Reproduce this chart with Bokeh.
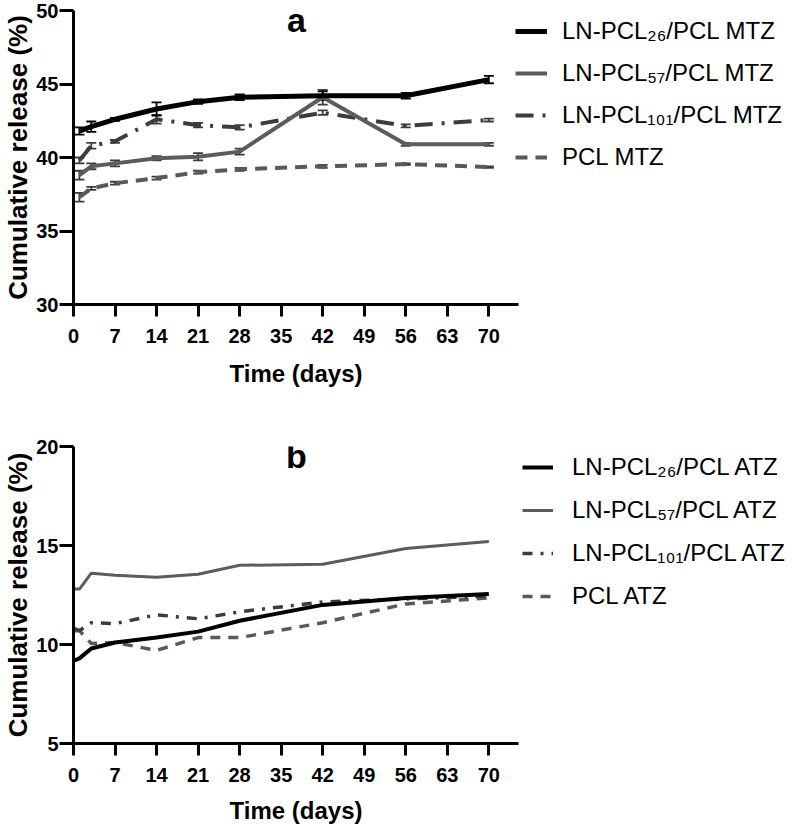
from bokeh.plotting import figure
from bokeh.layouts import column
from bokeh.models import (ColumnDataSource, Whisker, TeeHead, Legend, LegendItem,
                          Label, FixedTicker, Range1d)
from bokeh.embed import file_html
from bokeh.resources import INLINE

FONT = "Liberation Sans"

# ---- release data: metronidazole (MTZ) fibres ----
days_a = [1, 3, 7, 14, 21, 28, 42, 56, 70]
mtz_26 = [41.8, 42.1, 42.6, 43.3, 43.8, 44.1, 44.2, 44.2, 45.3]
mtz_26_sd = [0.25, 0.35, 0.1, 0.45, 0.15, 0.2, 0.3, 0.2, 0.25]
mtz_57 = [38.8, 39.4, 39.6, 39.95, 40.05, 40.4, 44.1, 40.9, 40.9]
mtz_57_sd = [0.3, 0.2, 0.2, 0.15, 0.25, 0.2, 0.5, 0.1, 0.1]
mtz_101 = [39.8, 40.8, 41.1, 42.6, 42.2, 42.05, 43.05, 42.15, 42.55]
mtz_101_sd = [0.2, 0.2, 0.1, 0.3, 0.15, 0.15, 0.15, 0.1, 0.1]
mtz_pcl = [37.3, 37.9, 38.25, 38.6, 39.0, 39.2, 39.4, 39.55, 39.35]
mtz_pcl_sd = [0.3, 0.1, 0.1, 0.1, 0.1, 0.1, 0.1, 0.05, 0.05]

# ---- release data: atorvastatin (ATZ) fibres ----
days_b = [0.2, 1, 3, 7, 14, 21, 28, 42, 56, 70]
atz_26 = [9.2, 9.3, 9.8, 10.1, 10.35, 10.65, 11.2, 12.0, 12.35, 12.55]
atz_57 = [12.8, 12.8, 13.6, 13.5, 13.4, 13.55, 14.0, 14.05, 14.85, 15.2]
atz_101 = [10.8, 10.7, 11.1, 11.05, 11.5, 11.3, 11.65, 12.15, 12.3, 12.45]
atz_pcl = [10.7, 10.7, 10.05, 10.1, 9.7, 10.35, 10.35, 11.1, 12.05, 12.35]

x_ticks = [0, 7, 14, 21, 28, 35, 42, 49, 56, 63, 70]
y_ticks_a = [30, 35, 40, 45, 50]
y_ticks_b = [5, 10, 15, 20]

labels_a = ["LN-PCL\u2082\u2086/PCL MTZ", "LN-PCL\u2085\u2087/PCL MTZ",
            "LN-PCL\u2081\u2080\u2081/PCL MTZ", "PCL MTZ"]
labels_b = ["LN-PCL\u2082\u2086/PCL ATZ", "LN-PCL\u2085\u2087/PCL ATZ",
            "LN-PCL\u2081\u2080\u2081/PCL ATZ", "PCL ATZ"]

BLACK = "#000000"
GREY = "#5c5c5c"
DARK = "#3c3c3c"
DASHED = "#595959"


def base_figure(y_lo, y_hi, y_ticks, fh, top, bottom, title_gap):
    p = figure(frame_width=445, frame_height=fh,
               x_range=Range1d(0, 75), y_range=Range1d(y_lo, y_hi),
               output_backend="svg", toolbar_location=None,
               min_border_left=73, min_border_right=278,
               min_border_top=top, min_border_bottom=bottom)
    p.outline_line_color = None
    p.grid.visible = False
    p.background_fill_color = "white"
    p.border_fill_color = "white"

    p.xaxis.ticker = FixedTicker(ticks=x_ticks)
    p.yaxis.ticker = FixedTicker(ticks=y_ticks)
    for ax in (p.xaxis, p.yaxis):
        ax.axis_line_width = 3
        ax.major_tick_line_width = 3
        ax.major_tick_in = 0
        ax.minor_tick_line_color = None
        ax.major_label_text_font = FONT
        ax.major_label_text_font_style = "bold"
        ax.major_label_text_font_size = "20px"
        ax.major_label_text_color = "black"
        ax.axis_label_text_font = FONT
        ax.axis_label_text_font_style = "bold"
        ax.axis_label_text_color = "black"
    p.xaxis.major_tick_out = 12
    p.xaxis.major_label_standoff = 12
    p.xaxis.axis_label = "Time (days)"
    p.xaxis.axis_label_text_font_size = "24px"
    p.xaxis.axis_label_standoff = title_gap
    p.yaxis.major_tick_out = 14
    p.yaxis.major_label_standoff = 1
    p.yaxis.axis_label = "Cumulative release (%)"
    p.yaxis.axis_label_text_font_size = "26px"
    p.yaxis.axis_label_standoff = 0
    return p


def add_errors(p, days, vals, sds, color):
    src = ColumnDataSource(dict(x=days,
                                lo=[v - s for v, s in zip(vals, sds)],
                                hi=[v + s for v, s in zip(vals, sds)]))
    w = Whisker(base="x", lower="lo", upper="hi", source=src,
                line_color=color, line_width=1.8,
                upper_head=TeeHead(size=10, line_color=color, line_width=1.8),
                lower_head=TeeHead(size=10, line_color=color, line_width=1.8))
    p.add_layout(w)


def add_legend(p, renderers, labels, loc, glyph_w, standoff, gap):
    items = [LegendItem(label=lab, renderers=[r]) for lab, r in zip(labels, renderers)]
    leg = Legend(items=items, location=loc, orientation="vertical",
                 margin=0, padding=0, spacing=gap,
                 glyph_width=glyph_w, glyph_height=28, label_height=28,
                 label_standoff=standoff,
                 label_text_font=FONT, label_text_font_size="24px",
                 label_text_color="black",
                 border_line_color=None, background_fill_alpha=0)
    p.add_layout(leg, "right")


# ---------------- panel a ----------------
pa = base_figure(30, 50, y_ticks_a, 294, 10, 108, 14)
ra_pcl = pa.line(days_a, mtz_pcl, line_color=DASHED, line_width=4, line_dash="12 8")
ra_101 = pa.line(days_a, mtz_101, line_color=DARK, line_width=4, line_dash="18 9 3 9")
ra_57 = pa.line(days_a, mtz_57, line_color=GREY, line_width=4)
ra_26 = pa.line(days_a, mtz_26, line_color=BLACK, line_width=5)
add_errors(pa, days_a, mtz_pcl, mtz_pcl_sd, DARK)
add_errors(pa, days_a, mtz_101, mtz_101_sd, DARK)
add_errors(pa, days_a, mtz_57, mtz_57_sd, DARK)
add_errors(pa, days_a, mtz_26, mtz_26_sd, BLACK)
add_legend(pa, [ra_26, ra_57, ra_101, ra_pcl], labels_a, (-3, 133), 32, 15, 14)
pa.add_layout(Label(x=223, y=285, x_units="screen", y_units="screen", text="a",
                    text_font=FONT, text_font_style="bold", text_font_size="34px",
                    text_color="black", text_align="center", text_baseline="alphabetic"))

# ---------------- panel b ----------------
pb = base_figure(5, 20, y_ticks_b, 297, 34, 81, 12)
rb_pcl = pb.line(days_b, atz_pcl, line_color=DASHED, line_width=3.5, line_dash="10 8")
rb_101 = pb.line(days_b, atz_101, line_color=DARK, line_width=3.5, line_dash="10 8 3 8")
rb_57 = pb.line(days_b, atz_57, line_color=GREY, line_width=3)
rb_26 = pb.line(days_b, atz_26, line_color=BLACK, line_width=4)
add_legend(pb, [rb_26, rb_57, rb_101, rb_pcl], labels_b, (4, 133), 31, 19, 15)
pb.add_layout(Label(x=223, y=288, x_units="screen", y_units="screen", text="b",
                    text_font=FONT, text_font_style="bold", text_font_size="34px",
                    text_color="black", text_align="center", text_baseline="alphabetic"))

layout = column(pa, pb, spacing=0)
open("out.html", "w").write(file_html(layout, INLINE))
